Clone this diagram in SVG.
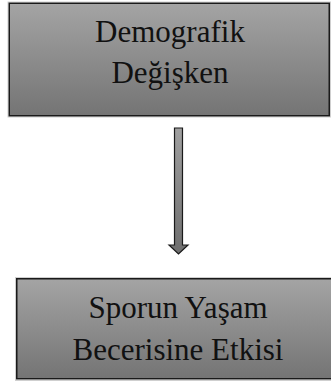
<svg xmlns="http://www.w3.org/2000/svg" width="331" height="381" viewBox="0 0 331 381">
<defs>
<linearGradient id="g" x1="0" y1="0" x2="0" y2="1">
<stop offset="0" stop-color="#a4a4a4"/>
<stop offset="1" stop-color="#747474"/>
</linearGradient>
<linearGradient id="ga" x1="0" y1="0" x2="0" y2="1">
<stop offset="0" stop-color="#a0a0a0"/>
<stop offset="1" stop-color="#6e6e6e"/>
</linearGradient>
<style>
.box{fill:url(#g);stroke:#1a1a1a;stroke-width:1.5}
.halo{fill:none;stroke:#cfcfcf;stroke-width:1}
.t{font-family:"Liberation Serif","Times New Roman",serif;font-size:31px;fill:#111;text-anchor:middle}
</style>
</defs>
<rect width="331" height="381" fill="#fff"/>
<g id="node1">
<rect class="halo" x="8" y="2" width="322.5" height="115"/>
<rect class="box" x="9.25" y="3.25" width="320" height="112.5"/>
<text class="t" x="170" y="42">Demografik</text>
<text class="t" x="170" y="83">Değişken</text>
</g>
<g id="connectors">
<path d="M174.5,128 H182.5 V245 H188 L178.5,254 L169,245 H174.5 Z" fill="url(#ga)" stroke="#1a1a1a" stroke-width="1.2" stroke-linejoin="miter"/>
</g>
<g id="node2">
<rect class="halo" x="15.5" y="277.5" width="330" height="103"/>
<rect class="box" x="16.75" y="278.75" width="330" height="100"/>
<text class="t" x="178" y="318">Sporun Yaşam</text>
<text class="t" x="178" y="360">Becerisine Etkisi</text>
</g>
</svg>
